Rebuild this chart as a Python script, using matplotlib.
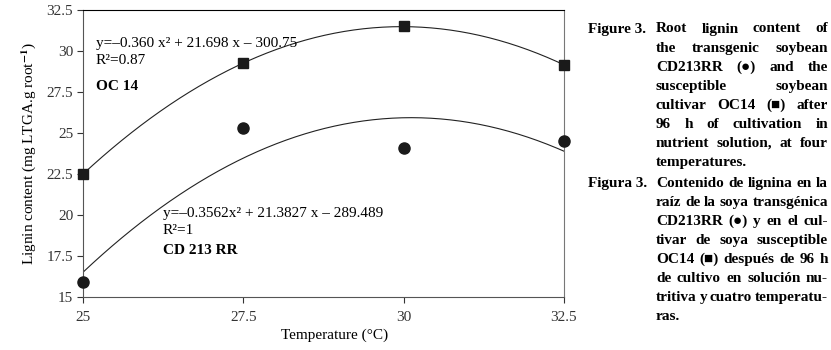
import matplotlib
matplotlib.use("Agg")
import matplotlib.pyplot as plt
import numpy as np

# data
temps = [25, 27.5, 30, 32.5]
oc14 = [22.5, 29.25, 31.5, 29.15]
cd213 = [15.9, 25.3, 24.1, 24.5]
yticks = [15, 17.5, 20, 22.5, 25, 27.5, 30, 32.5]
xticks = [25, 27.5, 30, 32.5]

caption_en = ["Root lignin content of", "the transgenic soybean", "CD213RR (\u25cf) and the",
              "susceptible soybean", "cultivar OC14 (\u25a0) after", "96 h of cultivation in",
              "nutrient solution, at four", "temperatures."]
caption_es = ["Contenido de lignina en la", "ra\u00edz de la soya transg\u00e9nica",
              "CD213RR (\u25cf) y en el cul-", "tivar de soya susceptible",
              "OC14 (\u25a0) despu\u00e9s de 96 h", "de cultivo en soluci\u00f3n nu-",
              "tritiva y cuatro temperatu-", "ras."]

W, H = 831, 350
plt.rcParams["font.family"] = ["Liberation Serif", "DejaVu Serif"]
plt.rcParams["mathtext.fontset"] = "stix"

fig = plt.figure(figsize=(W / 100, H / 100), dpi=100)
ax = fig.add_axes([83 / W, 1 - 297 / H, (564 - 83) / W, (297 - 10) / H])

# quadratic trend lines through the points
xs = np.linspace(25, 32.5, 200)
for ys in (oc14, cd213):
    p = np.polyfit(temps, ys, 2)
    ax.plot(xs, np.polyval(p, xs), color="#222222", lw=0.8)

ax.plot(temps, oc14, ls="none", marker="s", ms=6.5, color="#1a1a1a", clip_on=False, zorder=5)
ax.plot(temps, cd213, ls="none", marker="o", ms=8, color="#1a1a1a", clip_on=False, zorder=5)

ax.set_xlim(25, 32.5)
ax.set_ylim(15, 32.5)
ax.set_xticks(xticks)
ax.set_xticklabels(["25", "27.5", "30", "32.5"])
ax.set_yticks(yticks)
ax.set_yticklabels(["15", "17.5", "20", "22.5", "25", "27.5", "30", "32.5"])
ax.tick_params(direction="out", length=4, width=0.8, colors="#333333", labelsize=11)
ax.tick_params(axis="x", pad=6)
ax.tick_params(axis="y", pad=3)
for s in ax.spines.values():
    s.set_linewidth(0.8)
ax.spines["right"].set_color("#777777")
ax.spines["left"].set_color("#555555")
ax.spines["bottom"].set_color("#555555")
ax.spines["top"].set_color("black")

ax.set_ylabel("Lignin content (mg LTGA.g root$^{\\mathbf{-1}}$)", fontsize=11, labelpad=6)
fig.text(335 / W, 1 - 335 / H, "Temperature (\u00b0C)", fontsize=11, ha="center", va="center")

# equations
def ptext(x, y, s, va="center", **kw):
    return fig.text(x / W, 1 - y / H, s, va=va, ha="left", **kw)

ptext(96, 43, "y=\u20130.360 x\u00b2 + 21.698 x \u2013 300.75", fontsize=11)
ptext(96, 61, "R\u00b2=0.87", fontsize=11)
ptext(96, 86, "OC 14", fontsize=11, fontweight="bold")
ptext(163, 213, "y=\u20130.3562x\u00b2 + 21.3827 x \u2013 289.489", fontsize=11)
ptext(163, 231, "R\u00b2=1", fontsize=11)
ptext(163, 250, "CD 213 RR", fontsize=11, fontweight="bold")

# justified caption on the right (y given as baseline)
renderer = fig.canvas.get_renderer()
CAP = 11

def cap_word(x, y, w, size):
    fam = ["Liberation Serif", "DejaVu Sans"] if ("\u25cf" in w or "\u25a0" in w) else ["Liberation Serif"]
    return ptext(x, y, w, va="baseline", fontsize=size, fontweight="bold", family=fam)

def width_of(w, size):
    t = cap_word(0, 0, w, size)
    wd = t.get_window_extent(renderer).width
    t.remove()
    return wd

def justify(line, x0, x1, y, last):
    words = line.split(" ")
    size = CAP
    # shrink a line a little if it would not fit
    while True:
        widths = [width_of(w, size) for w in words]
        space = width_of("a a", size) - 2 * width_of("a", size)
        if last or sum(widths) + 0.6 * space * (len(words) - 1) <= x1 - x0 or size < 9:
            break
        size -= 0.25
    if last or len(words) == 1:
        gap = space
    else:
        gap = (x1 - x0 - sum(widths)) / (len(words) - 1)
    x = x0
    for w, wd in zip(words, widths):
        cap_word(x, y, w, size)
        x += wd + gap

def block(label, lines, y0):
    cap_word(588, y0, label, CAP)
    for i, line in enumerate(lines):
        justify(line, 656, 828, y0 + i * 19.05, i == len(lines) - 1)

block("Figure 3.", caption_en, 32.5)
block("Figura 3.", caption_es, 186.9)

fig.savefig("out.png", dpi=100)
